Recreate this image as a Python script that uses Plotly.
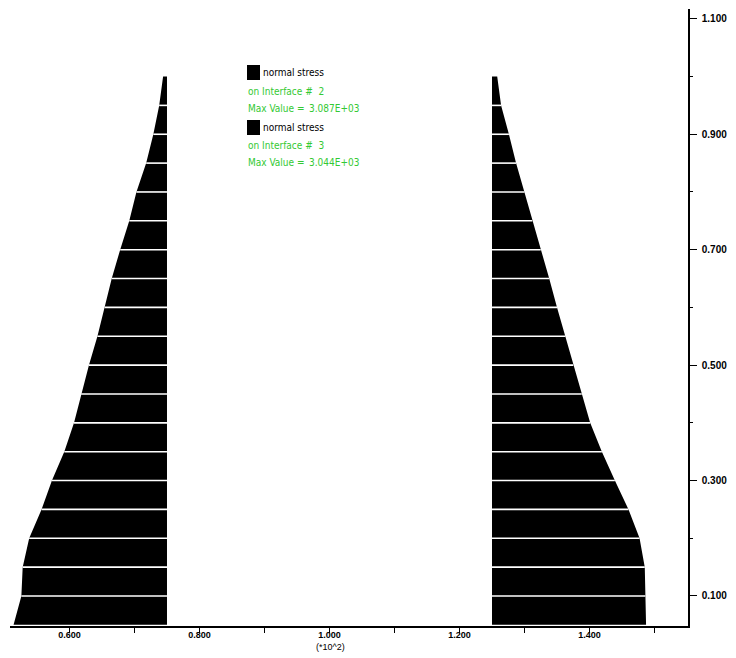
import plotly.graph_objects as go

# ---- data ----
y_nodes = [0.05, 0.10, 0.15, 0.20, 0.25, 0.30, 0.35, 0.40, 0.45, 0.50,
           0.55, 0.60, 0.65, 0.70, 0.75, 0.80, 0.85, 0.90, 0.95, 1.00]
left_profile = [0.514, 0.526, 0.528, 0.538, 0.557, 0.573, 0.592, 0.607, 0.618, 0.630,
                0.643, 0.654, 0.665, 0.678, 0.692, 0.703, 0.718, 0.729, 0.738, 0.744]
right_profile = [1.487, 1.486, 1.485, 1.477, 1.460, 1.439, 1.419, 1.401, 1.388, 1.375,
                 1.363, 1.350, 1.338, 1.325, 1.312, 1.300, 1.287, 1.276, 1.264, 1.258]
left_base = 0.75
right_base = 1.25

legend_items = [
    ("normal stress", "on Interface #  2", "Max Value =", "3.087E+03"),
    ("normal stress", "on Interface #  3", "Max Value =", "3.044E+03"),
]
x_label = "(*10^2)"

# ---- layout geometry (pixels) ----
W, H = 736, 658
L, R, T, B = 10, 688, 9, 626
GREEN = "#33c933"


def px(x):
    return (x - L) / (R - L)


def py(y):
    return (B - y) / (B - T)


fig = go.Figure()

for base, prof in ((left_base, left_profile), (right_base, right_profile)):
    xs = [base] + list(prof) + [base]
    ys = [y_nodes[0]] + list(y_nodes) + [y_nodes[-1]]
    fig.add_trace(go.Scatter(x=xs, y=ys, fill="toself", fillcolor="black",
                             mode="lines", line=dict(width=0, color="black"),
                             hoverinfo="skip", showlegend=False))
    # white separators between bands
    sx, sy = [], []
    for yv, xv in zip(y_nodes[1:-1], prof[1:-1]):
        sx += [base, xv, None]
        sy += [yv, yv, None]
    fig.add_trace(go.Scatter(x=sx, y=sy, mode="lines",
                             line=dict(width=1.6, color="white"),
                             hoverinfo="skip", showlegend=False))

annotations = []
shapes = []
font_leg = dict(family="DejaVu Sans Condensed, Liberation Sans Narrow, Liberation Sans, Arial, sans-serif", size=10)
rows = [(72, 92, 108, 65, 80), (128, 145, 162, 120, 135)]
for (name, iface, mv, val), (yn, yi, ym, s0, s1) in zip(legend_items, rows):
    shapes.append(dict(type="rect", xref="paper", yref="paper",
                       x0=px(247), x1=px(260), y0=py(s1), y1=py(s0),
                       fillcolor="black", line=dict(width=0)))
    annotations.append(dict(text=name, x=px(261), y=py(yn), xref="paper", yref="paper",
                            xanchor="left", yanchor="middle", showarrow=False,
                            font=dict(color="black", **font_leg)))
    annotations.append(dict(text=iface, x=px(246), y=py(yi), xref="paper", yref="paper",
                            xanchor="left", yanchor="middle", showarrow=False,
                            font=dict(color=GREEN, **font_leg)))
    annotations.append(dict(text=mv, x=px(246), y=py(ym), xref="paper", yref="paper",
                            xanchor="left", yanchor="middle", showarrow=False,
                            font=dict(color=GREEN, **font_leg)))
    annotations.append(dict(text=val, x=px(307), y=py(ym), xref="paper", yref="paper",
                            xanchor="left", yanchor="middle", showarrow=False,
                            font=dict(color=GREEN, **font_leg)))

annotations.append(dict(text=x_label, x=px(330), y=py(647), xref="paper", yref="paper",
                        xanchor="center", yanchor="middle", showarrow=False,
                        font=dict(color="black", family="Liberation Sans, Arial, sans-serif", size=9)))

xtick_font = dict(family="Liberation Sans, Arial, sans-serif", size=9, color="black", weight="bold")
ytick_font = dict(family="Liberation Sans, Arial, sans-serif", size=10, color="black", weight="bold")

fig.update_layout(
    width=W, height=H,
    margin=dict(l=L, r=W - R, t=T, b=H - B, pad=0),
    paper_bgcolor="white", plot_bgcolor="white",
    showlegend=False,
    shapes=shapes, annotations=annotations,
    xaxis=dict(range=[0.5085, 1.5515], showgrid=False, zeroline=False,
               showline=True, linecolor="black", linewidth=1.5,
               ticks="outside", ticklen=5, tickwidth=1.2, tickcolor="black",
               tick0=0.0, dtick=0.2, tickformat=".3f", tickfont=xtick_font,
               ticklabelstandoff=-6,
               minor=dict(dtick=0.1, tick0=0.0, ticks="outside", ticklen=5,
                          tickwidth=1.2, tickcolor="black", showgrid=False)),
    yaxis=dict(range=[0.048, 1.117], side="right", showgrid=False, zeroline=False,
               showline=True, linecolor="black", linewidth=1.5,
               ticks="outside", ticklen=7, tickwidth=1.2, tickcolor="black",
               tick0=0.1, dtick=0.2, tickformat=".3f", tickfont=ytick_font,
               ticklabelstandoff=3,
               minor=dict(dtick=0.1, tick0=0.0, ticks="outside", ticklen=3,
                          tickwidth=1.2, tickcolor="black", showgrid=False)),
)

fig.write_html("out.html")
